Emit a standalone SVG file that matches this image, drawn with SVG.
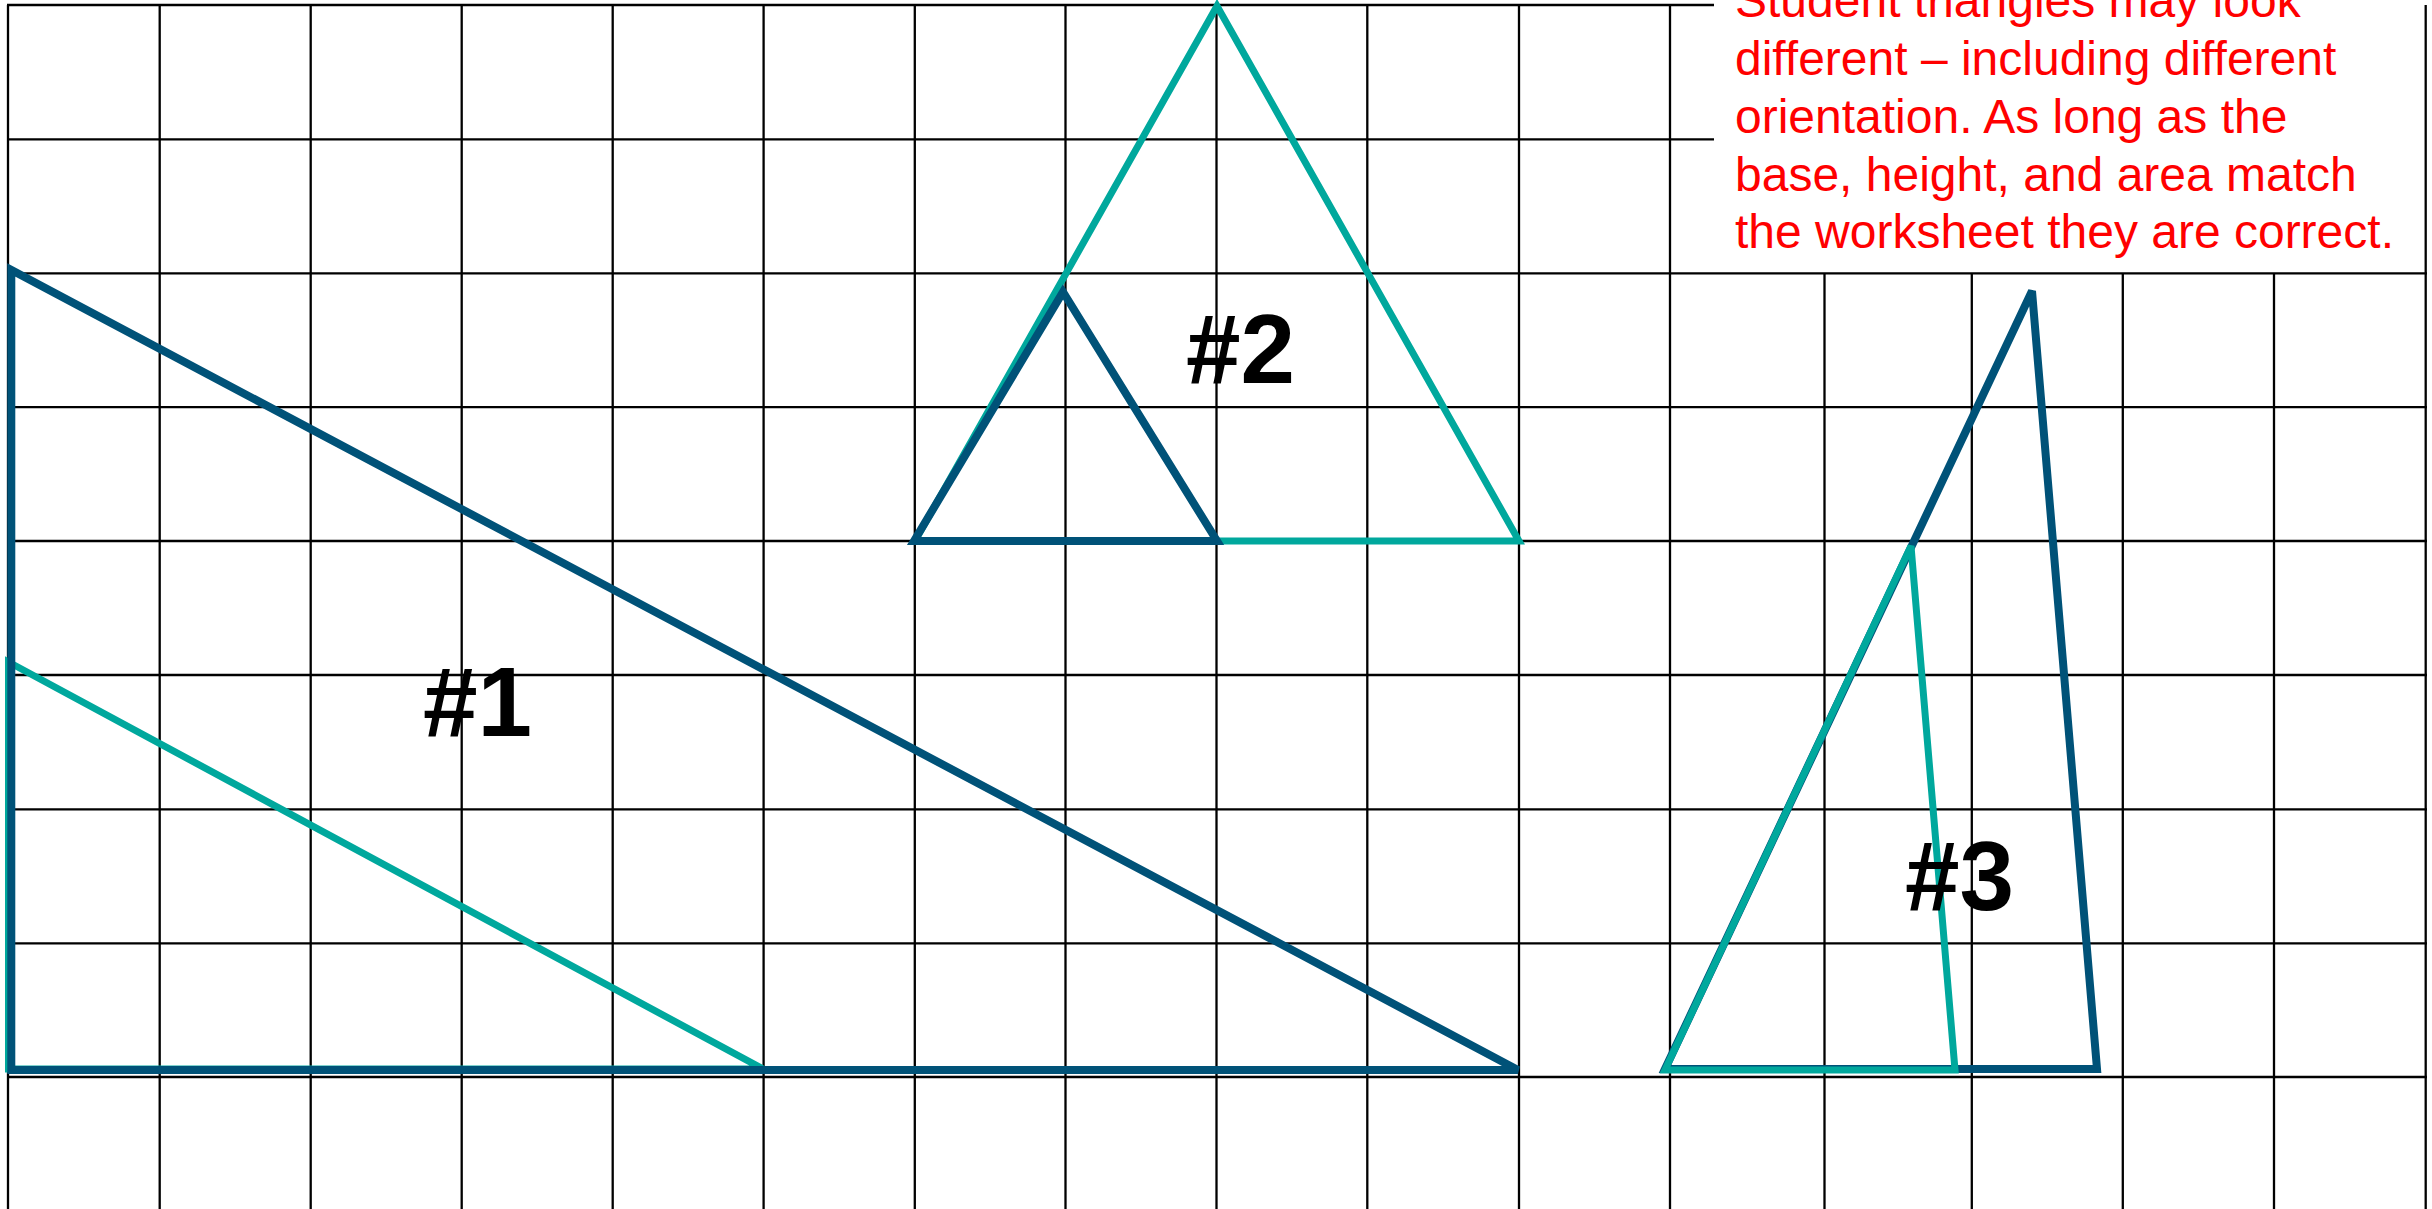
<svg xmlns="http://www.w3.org/2000/svg" width="2432" height="1209" viewBox="0 0 2432 1209">
<style>
.bg{fill:#ffffff}
.grid line{stroke:#000000;stroke-width:2.3}
.blue{fill:none;stroke:#005278;stroke-width:8;stroke-linejoin:miter;stroke-miterlimit:2.1}
.teal{fill:none;stroke:#00a89d;stroke-width:7;stroke-linejoin:miter;stroke-miterlimit:2.1}
.lbl{font-family:"Liberation Sans",Arial,sans-serif;font-weight:bold;font-size:98px;fill:#000000}
.note{font-family:"Liberation Sans",Arial,sans-serif;font-size:48px;fill:#ff0000}
</style>
<rect class="bg" x="0" y="0" width="2432" height="1209"/>
<g id="grid" class="grid">
  <line x1="8" y1="5" x2="8" y2="1209"/>
  <line x1="159.7" y1="5" x2="159.7" y2="1209"/>
  <line x1="310.7" y1="5" x2="310.7" y2="1209"/>
  <line x1="461.7" y1="5" x2="461.7" y2="1209"/>
  <line x1="612.7" y1="5" x2="612.7" y2="1209"/>
  <line x1="763.6" y1="5" x2="763.6" y2="1209"/>
  <line x1="914.8" y1="5" x2="914.8" y2="1209"/>
  <line x1="1065.5" y1="5" x2="1065.5" y2="1209"/>
  <line x1="1216.5" y1="5" x2="1216.5" y2="1209"/>
  <line x1="1367.3" y1="5" x2="1367.3" y2="1209"/>
  <line x1="1519" y1="5" x2="1519" y2="1209"/>
  <line x1="1670" y1="5" x2="1670" y2="1209"/>
  <line x1="1824.5" y1="273.3" x2="1824.5" y2="1209"/>
  <line x1="1971.8" y1="273.3" x2="1971.8" y2="1209"/>
  <line x1="2122.8" y1="273.3" x2="2122.8" y2="1209"/>
  <line x1="2274" y1="273.3" x2="2274" y2="1209"/>
  <line x1="2425.7" y1="5" x2="2425.7" y2="1209"/>
  <line x1="7" y1="5" x2="1714" y2="5"/>
  <line x1="7" y1="139.3" x2="1714" y2="139.3"/>
  <line x1="7" y1="273.3" x2="2427" y2="273.3"/>
  <line x1="7" y1="407.2" x2="2427" y2="407.2"/>
  <line x1="7" y1="541" x2="2427" y2="541"/>
  <line x1="7" y1="675" x2="2427" y2="675"/>
  <line x1="7" y1="809.3" x2="2427" y2="809.3"/>
  <line x1="7" y1="943.3" x2="2427" y2="943.3"/>
  <line x1="7" y1="1077" x2="2427" y2="1077"/>
</g>
<g id="triangle-1">
  <polygon class="teal" points="8.5,662 8.5,1069 763,1069"/>
  <polygon class="blue" points="11.3,270 11.3,1070 1518,1070"/>
</g>
<g id="triangle-2">
  <polygon class="teal" points="915,541 1217,6 1519,541"/>
  <polygon class="blue" points="914,541 1063,292 1217,541"/>
</g>
<g id="triangle-3">
  <polygon class="blue" points="1665,1069 2032,291 2097,1069"/>
  <polygon class="teal" points="1665,1070 1911,546 1955,1070"/>
</g>
<g id="labels">
  <text class="lbl" x="423" y="736">#1</text>
  <text class="lbl" x="1186" y="383">#2</text>
  <text class="lbl" x="1905" y="910">#3</text>
</g>
<g id="note" class="note">
  <text x="1735" y="17">Student triangles may look</text>
  <text x="1735" y="75">different – including different</text>
  <text x="1735" y="133">orientation. As long as the</text>
  <text x="1735" y="191">base, height, and area match</text>
  <text x="1735" y="248">the worksheet they are correct.</text>
</g>
</svg>
